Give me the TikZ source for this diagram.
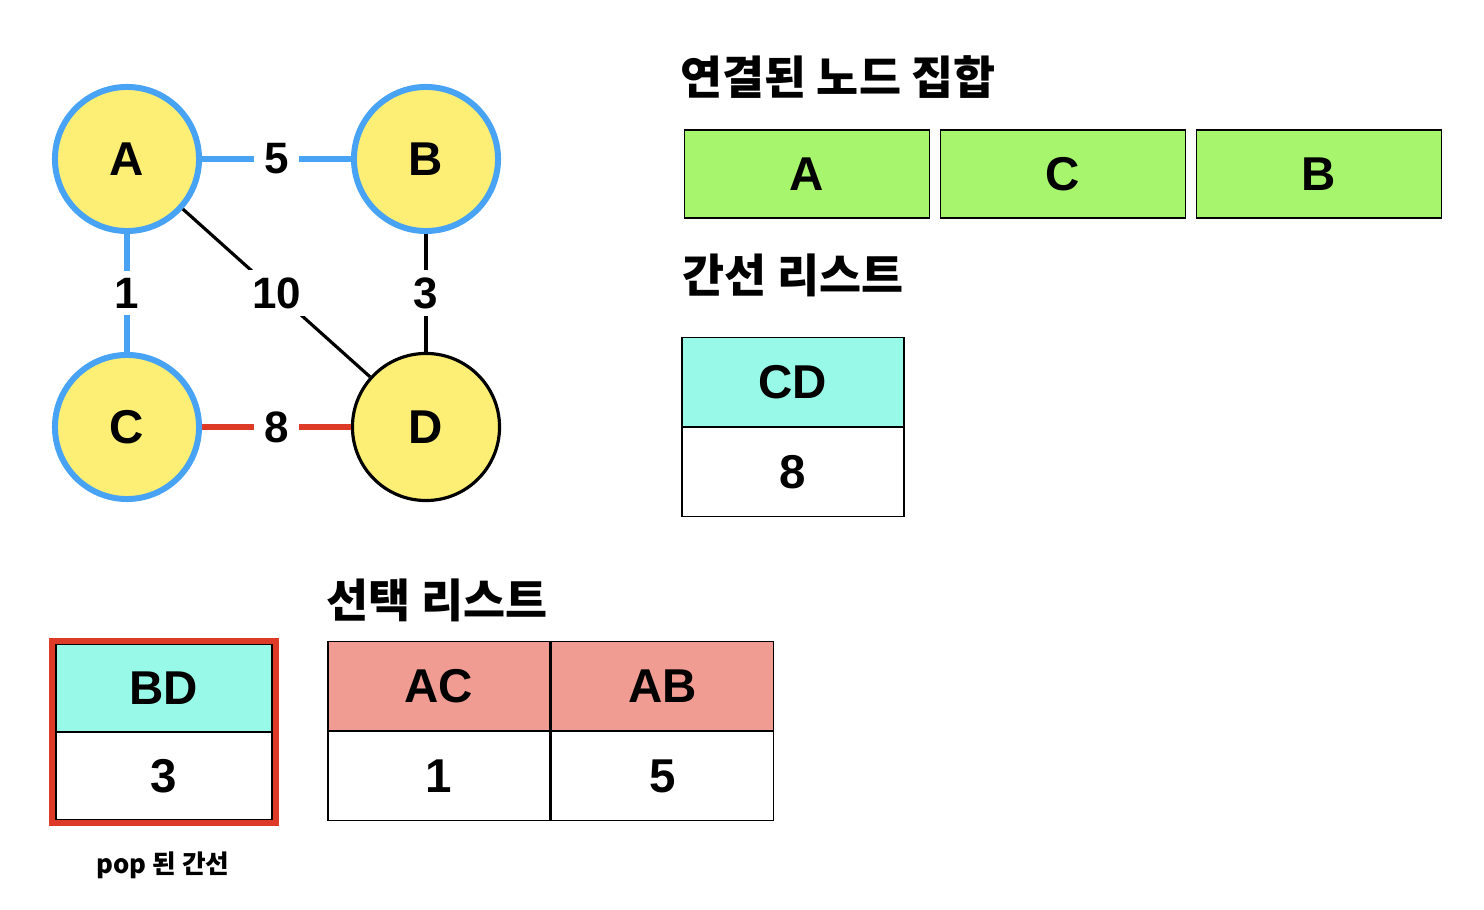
\documentclass[tikz,border=0pt]{standalone}
\usepackage{fontspec}
\setmainfont{Liberation Sans}
\newfontfamily\krfont{Noto Sans CJK KR}
\definecolor{ringblue}{RGB}{72,163,245}
\definecolor{vyellow}{RGB}{253,238,117}
\definecolor{cutred}{RGB}{221,58,40}
\definecolor{setgreen}{RGB}{166,245,108}
\definecolor{edgecyan}{RGB}{152,249,232}
\definecolor{pickred}{RGB}{241,156,146}
\usetikzlibrary{positioning, fit}
\tikzset{
	vertex/.style={circle, draw=black, line width=0.9pt, fill=vyellow, minimum size=1.47cm, inner sep=0pt, font=\fontsize{13.5}{16}\selectfont\bfseries},
	donevertex/.style={vertex, draw=ringblue, line width=1.7pt, minimum size=1.44cm},
	weight/.style={fill=white, inner xsep=3pt, inner ysep=2pt, font=\fontsize{12.5}{14}\selectfont\bfseries},
	treeedge/.style={draw=ringblue, line width=1.7pt},
	popedge/.style={draw=cutred, line width=1.6pt},
	plainedge/.style={draw=black, line width=0.9pt},
	cell/.style={rectangle, draw=black, line width=0.35pt, inner sep=0pt, minimum width=2.22cm, minimum height=0.89cm, font=\fontsize{13.5}{16}\selectfont\bfseries},
	setcell/.style={cell, fill=setgreen, minimum width=2.45cm, minimum height=0.88cm},
	headcell/.style={cell, fill=edgecyan},
	pickcell/.style={cell, fill=pickred},
	title/.style={font=\krfont\bfseries\fontsize{13}{15}\selectfont},
	popframe/.style={draw=cutred, line width=1.7pt, inner sep=0.85pt},
}
\begin{document}
\begin{tikzpicture}[x=0.01cm, y=-0.01cm, node distance=0.095cm and 0.095cm]
	\useasboundingbox (0,0) rectangle (1484,910);
	\node[donevertex] (a) at (127,159) {A};
	\node[donevertex] (b) at (426,159) {B};
	\node[donevertex] (c) at (127,427) {C};
	\node[vertex] (d) at (426,427) {D};
	\draw[treeedge] (a) -- node[weight] {5} (b);
	\draw[treeedge] (a) -- node[weight] {1} (c);
	\draw[plainedge] (a) -- node[weight] {10} (d);
	\draw[plainedge] (b) -- node[weight] {3} (d);
	\draw[popedge] (c) -- node[weight] {8} (d);

	\node[title] (settitle) at (838,77) {연결된 노드 집합};
	\node[setcell] (seta) at (807,174) {A};
	\node[setcell, right=of seta] (setc) {C};
	\node[setcell, right=of setc] (setb) {B};

	\node[title] (edgetitle) at (793,275) {간선 리스트};
	\node[headcell] (cd) at (793,382) {CD};
	\node[cell, below=0pt of cd] (cdval) {8};

	\node[title] (picktitle) at (437,600) {선택 리스트};
	\node[pickcell] (ac) at (439,686) {AC};
	\node[pickcell, right=0pt of ac] (ab) {AB};
	\node[cell, below=0pt of ac] (acval) {1};
	\node[cell, below=0pt of ab] (abval) {5};

	\node[headcell, minimum width=2.16cm, minimum height=0.87cm] (bd) at (164,688) {BD};
	\node[cell, minimum width=2.16cm, minimum height=0.87cm, below=0pt of bd] (bdval) {3};
	\node[popframe, fit=(bd)(bdval)] (popbox) {};
	\node[font=\krfont\bfseries\fontsize{7.3}{9}\selectfont] (poplabel) at (163,865) {pop 된 간선};
\end{tikzpicture}
\end{document}
